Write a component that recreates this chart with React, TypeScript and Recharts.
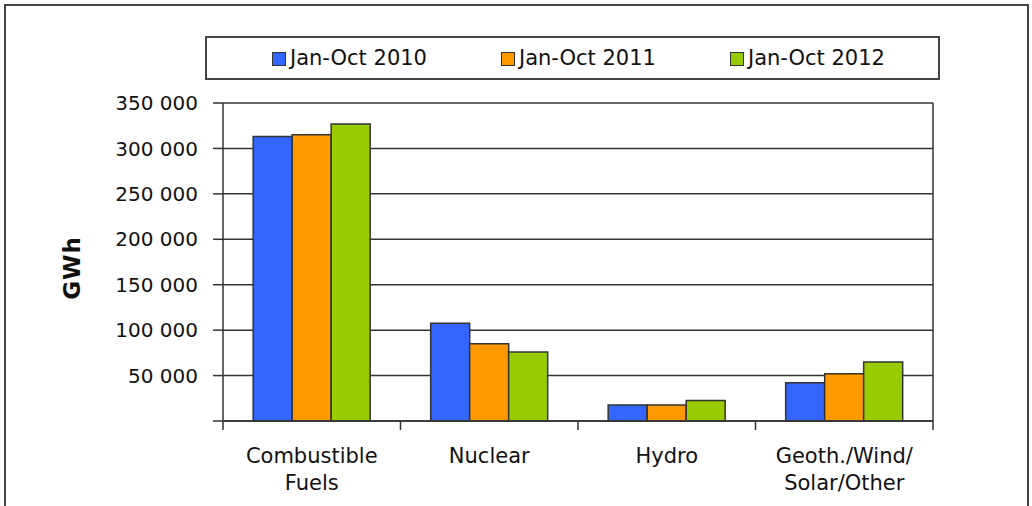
import React from 'react';
import { BarChart, Bar, XAxis, YAxis, CartesianGrid, Legend } from 'recharts';

const categories = ['Combustible\nFuels', 'Nuclear', 'Hydro', 'Geoth./Wind/\nSolar/Other'];
const series2010 = [313000, 107500, 17500, 42000];
const series2011 = [315000, 85000, 17500, 52000];
const series2012 = [327000, 76000, 22500, 65000];
const seriesNames = ['Jan-Oct 2010', 'Jan-Oct 2011', 'Jan-Oct 2012'];
const seriesKeys = ['y2010', 'y2011', 'y2012'];
const seriesColors = ['#3366FF', '#FF9900', '#99CC00'];
const yTicks = [0, 50000, 100000, 150000, 200000, 250000, 300000, 350000];
const yLabel = 'GWh';

const data = categories.map((c, i) => ({
  category: c,
  y2010: series2010[i],
  y2011: series2011[i],
  y2012: series2012[i],
}));

const FONT = '"DejaVu Sans", Verdana, sans-serif';
const LINE = '#333';

const fmt = (v: number) => (v === 0 ? '' : String(v).replace(/\B(?=(\d{3})+(?!\d))/g, ' '));

const CategoryTick = (props: any) => {
  const { x, y, payload, index } = props;
  const half = payload && typeof payload.offset === 'number' ? payload.offset : 0;
  const lines = String(payload.value).split('\n');
  const isLast = index === categories.length - 1;
  return (
    <g>
      <line x1={x - half} x2={x - half} y1={y - 9} y2={y} stroke={LINE} strokeWidth={1.5} />
      {isLast && <line x1={x + half} x2={x + half} y1={y - 9} y2={y} stroke={LINE} strokeWidth={1.5} />}
      <text x={x} y={y + 33} textAnchor="middle" fontFamily={FONT} fontSize={21} fill="#111">
        {lines.map((l, i) => (
          <tspan key={i} x={x} dy={i === 0 ? 0 : 27}>
            {l}
          </tspan>
        ))}
      </text>
    </g>
  );
};

const LegendBox = (props: any) => {
  const payload = props.payload || [];
  return (
    <div
      style={{
        boxSizing: 'border-box',
        width: '100%',
        height: '100%',
        border: '2px solid #444',
        display: 'flex',
        alignItems: 'center',
        justifyContent: 'flex-start',
        paddingLeft: 65,
        gap: 74,
        fontFamily: FONT,
        fontSize: 21,
        color: '#111',
        background: '#fff',
      }}
    >
      {payload.map((p: any, i: number) => (
        <div key={i} style={{ display: 'flex', alignItems: 'center' }}>
          <span
            style={{
              display: 'inline-block',
              width: 12,
              height: 12,
              background: p.color,
              border: '1px solid #333',
              marginRight: 4,
              marginTop: 2,
            }}
          />
          <span>{p.value}</span>
        </div>
      ))}
    </div>
  );
};

export default function App() {
  return (
    <div
      style={{
        position: 'absolute',
        left: 0,
        top: 0,
        width: 1032,
        height: 506,
        background: '#fff',
        overflow: 'hidden',
      }}
    >
      <div
        style={{
          position: 'absolute',
          left: 4,
          top: 4,
          width: 1025,
          height: 530,
          boxSizing: 'border-box',
          border: '2px solid #444',
        }}
      />
      <div style={{ position: 'absolute', left: 0, top: 0 }}>
        <BarChart
          width={1032}
          height={506}
          data={data}
          margin={{ top: 103, right: 97, bottom: 25, left: 0 }}
          barCategoryGap="17%"
          barGap={0}
        >
          <CartesianGrid vertical={false} stroke={LINE} strokeWidth={1.5} />
          <XAxis
            dataKey="category"
            height={60}
            tickSize={9}
            tickMargin={0}
            tickLine={false}
            axisLine={{ stroke: LINE, strokeWidth: 1.5 }}
            tick={<CategoryTick />}
            interval={0}
          />
          <YAxis
            width={223}
            domain={[0, 350000]}
            ticks={yTicks}
            tickFormatter={fmt}
            tickSize={10}
            tickMargin={15}
            axisLine={{ stroke: LINE, strokeWidth: 1.5 }}
            tickLine={{ stroke: LINE, strokeWidth: 1.5 }}
            tick={{ fontFamily: FONT, fontSize: 20, fill: '#111' }}
            label={{
              content: (p: any) => {
                const vb = p.viewBox || { y: 103, height: 318 };
                const cy = vb.y + vb.height / 2 + 6;
                return (
                  <text
                    x={80}
                    y={cy}
                    transform={`rotate(-90, 80, ${cy})`}
                    textAnchor="middle"
                    fontFamily={FONT}
                    fontSize={23}
                    letterSpacing={1}
                    fontWeight="bold"
                    fill="#111"
                  >
                    {yLabel}
                  </text>
                );
              },
            }}
          />
          <YAxis
            yAxisId="right"
            orientation="right"
            width={2}
            domain={[0, 350000]}
            tick={false}
            tickLine={false}
            axisLine={{ stroke: LINE, strokeWidth: 1.5 }}
          />
          <Legend
            layout="horizontal"
            verticalAlign="middle"
            align="center"
            wrapperStyle={{ left: 205, top: 36, width: 735, height: 44 }}
            content={(p: any) => <LegendBox payload={p.payload} />}
          />
          {seriesKeys.map((k, i) => (
            <Bar
              key={k}
              dataKey={k}
              name={seriesNames[i]}
              fill={seriesColors[i]}
              stroke={LINE}
              strokeWidth={1.5}
              isAnimationActive={false}
            />
          ))}
        </BarChart>
      </div>
    </div>
  );
}
